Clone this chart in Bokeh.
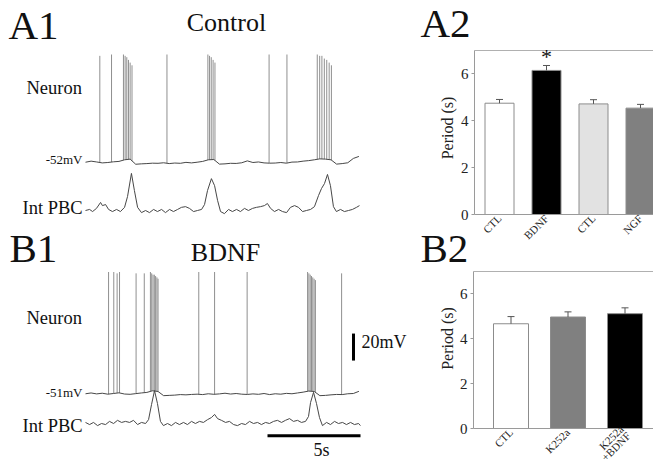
import numpy as np
from bokeh.plotting import figure
from bokeh.models import Range1d, LinearAxis, FixedTicker
from bokeh.embed import file_html
from bokeh.resources import INLINE
from bokeh.core.properties import value

FONT = "Liberation Serif"

# ---------------- data ----------------
# membrane potential baseline (mV), one sample every 0.3 s from t = 0 s
VM_DT = 0.3
a1_vm_base = [-51.8, -51.0, -51.6, -52.3, -52.0, -51.5, -51.2, -50.0, -49.5, -53.3,
              -53.0, -52.8, -52.5, -52.6, -52.2, -52.8, -52.4, -52.6, -51.9, -52.3,
              -51.8, -51.2, -50.0, -49.8, -53.2, -53.0, -52.6, -52.7, -52.2, -50.8,
              -52.0, -51.6, -52.3, -52.5, -52.4, -52.0, -52.5, -51.7, -51.6, -51.0,
              -50.6, -50.0, -49.3, -49.5, -50.0, -53.2, -52.8, -52.2, -49.0, -47.5]
a1_spike_t = [0.77, 1.40, 2.04, 2.13, 2.22, 2.31, 2.40, 2.50, 4.38, 6.58, 6.67, 6.76,
              6.86, 6.96, 9.87, 10.83, 12.46, 12.59, 12.71, 12.84, 12.97, 13.10, 13.22]
a1_spike_peak = [27, 28, 28, 27, 26, 24, 22, 20, 28, 28, 27, 26,
                 24, 22, 28, 28, 28, 27, 27, 25, 24, 22, 20]

b1_vm_base = [-51.2, -50.6, -51.3, -50.8, -51.5, -51.0, -50.5, -51.4, -51.6, -51.1,
              -50.6, -50.2, -49.0, -49.5, -52.6, -52.4, -52.2, -51.8, -52.0, -51.7,
              -51.5, -51.8, -51.2, -51.6, -51.3, -50.8, -51.4, -51.0, -51.5, -51.7,
              -51.3, -51.6, -51.0, -51.8, -51.2, -51.5, -50.9, -51.2, -50.6, -50.0,
              -49.2, -49.5, -52.6, -52.4, -52.0, -51.7, -51.8, -51.2, -51.0, -49.4]
b1_spike_t = [1.24, 1.52, 1.70, 1.83, 2.72, 3.16, 3.49, 3.56, 3.63, 3.70, 3.77, 3.84,
              3.90, 6.09, 6.94, 8.69, 11.94, 12.01, 12.08, 12.15, 12.22, 12.29, 12.36, 13.77]
b1_spike_peak = [39, 39, 38, 39, 38, 38, 39, 38, 37, 37, 36, 35,
                 34, 39, 39, 39, 39, 38, 37, 36, 35, 34, 33, 38]

# integrated preBotC activity (a.u.)
a1_int_t = [0.00, 0.22, 0.38, 0.59, 0.81, 0.91, 1.08, 1.24, 1.45, 1.67, 1.88, 2.10, 2.26,
            2.47, 2.63, 2.80, 3.01, 3.23, 3.44, 3.66, 3.87, 4.09, 4.30, 4.52, 4.73, 4.95,
            5.16, 5.38, 5.59, 5.81, 6.02, 6.24, 6.40, 6.56, 6.77, 6.94, 7.10, 7.26, 7.47,
            7.69, 7.90, 8.12, 8.33, 8.55, 8.76, 8.98, 9.19, 9.41, 9.62, 9.78, 9.95, 10.16,
            10.38, 10.59, 10.81, 11.02, 11.24, 11.45, 11.67, 11.88, 12.10, 12.31, 12.53,
            12.69, 12.85, 13.01, 13.17, 13.33, 13.49, 13.71, 13.92, 14.14, 14.35, 14.57, 14.73]
a1_int_v = [0.00, 0.03, -0.03, 0.06, 0.23, 0.14, 0.17, 0.03, -0.03, 0.03, -0.03, 0.09, 0.40,
            1.06, 0.57, 0.09, -0.06, 0.00, -0.06, 0.03, -0.03, 0.03, -0.06, 0.03, -0.03, 0.03,
            0.09, 0.11, 0.06, -0.03, 0.00, 0.03, 0.17, 0.57, 0.91, 0.71, 0.29, -0.03, -0.09,
            0.03, -0.03, 0.03, -0.03, 0.06, 0.00, 0.06, 0.09, 0.11, 0.14, 0.20, 0.06, -0.03,
            0.03, -0.03, -0.06, 0.09, 0.14, 0.09, -0.03, 0.00, 0.03, 0.11, 0.43,
            0.63, 0.77, 1.03, 0.71, 0.11, -0.03, 0.03, -0.03, 0.00, 0.03, 0.09, 0.14]
b1_int_t = [0.00, 0.22, 0.43, 0.65, 0.86, 1.08, 1.29, 1.51, 1.72, 1.94, 2.15, 2.37, 2.58,
            2.80, 3.01, 3.23, 3.39, 3.55, 3.71, 3.87, 4.03, 4.19, 4.41, 4.62, 4.84, 5.05,
            5.27, 5.48, 5.70, 5.91, 6.13, 6.34, 6.56, 6.77, 6.94, 7.10, 7.31, 7.53, 7.74,
            7.96, 8.17, 8.39, 8.60, 8.82, 9.03, 9.25, 9.46, 9.68, 9.89, 10.11, 10.32, 10.54,
            10.75, 10.97, 11.18, 11.40, 11.61, 11.83, 11.99, 12.10, 12.26, 12.42, 12.58,
            12.74, 12.96, 13.17, 13.39, 13.60, 13.82, 14.03, 14.25, 14.46, 14.68, 14.78]
b1_int_v = [0.03, -0.03, 0.03, -0.06, 0.00, -0.03, 0.06, 0.00, 0.09, 0.03, 0.06, 0.03, 0.09,
            -0.03, 0.03, 0.00, 0.11, 0.54, 0.94, 0.57, 0.06, -0.06, 0.00, -0.06, 0.03, -0.03,
            0.03, -0.03, 0.06, 0.00, 0.06, 0.03, 0.11, 0.17, 0.26, 0.14, 0.09, 0.03, 0.06,
            -0.03, -0.06, 0.00, -0.03, 0.06, 0.00, 0.03, -0.03, 0.03, 0.00, 0.06, 0.09, 0.03,
            0.09, 0.14, 0.06, 0.09, 0.03, 0.06, 0.20, 0.60, 0.89, 0.57, 0.17,
            -0.06, 0.03, -0.03, 0.06, 0.00, 0.03, -0.03, 0.03, -0.03, 0.00, -0.06]

SCALE_S = 5      # time scale bar (s)
SCALE_MV = 20    # voltage scale bar (mV)

a2_labels = ["CTL", "BDNF", "CTL", "NGF"]
a2_period = [4.75, 6.15, 4.72, 4.54]
a2_sem = [0.16, 0.21, 0.18, 0.16]
a2_colors = ["#ffffff", "#000000", "#e2e2e2", "#808080"]

b2_labels = ["CTL", "K252a", "K252a\n+BDNF"]
b2_period = [4.67, 4.97, 5.12]
b2_sem = [0.32, 0.23, 0.26]
b2_colors = ["#ffffff", "#808080", "#000000"]

Y_TICKS = [0, 2, 4, 6]
Y_MAX = 7
Y_TITLE = "Period (s)"

# ---------------- layout constants (pixels of the 653x462 picture) ----------------
W, H = 653, 462
T0_PX = 85          # where t = 0 s sits
PX_PER_S = 18.6
PX_PER_MV = 1.35
PX_PER_AU = 35.0
BASE_K = 0.38       # baseline correction (fraction of font size)


def vrange(base_val, base_px, ppu):
    return Range1d(base_val - (H - base_px) / ppu, base_val + base_px / ppu)


p = figure(width=W, height=H, x_range=Range1d(0, W), y_range=Range1d(H, 0),
           x_axis_location=None, y_axis_location=None,
           output_backend="svg", toolbar_location=None,
           min_border=0, outline_line_color=None)
p.grid.visible = False

# ---- bar-chart coordinate systems
A2 = dict(frame_left=474, frame_top=50, zero_px=214, c1=499, unit=47, bar_w=29, title_y=127.5)
B2 = dict(frame_left=473, frame_top=271, zero_px=428, c1=510.5, unit=57, bar_w=35, title_y=338)


def bar_ranges(cfg):
    ppu_y = (cfg["zero_px"] - cfg["frame_top"]) / Y_MAX
    xr = Range1d(1 + (0 - cfg["c1"]) / cfg["unit"], 1 + (W - cfg["c1"]) / cfg["unit"])
    yr = Range1d((cfg["zero_px"] - H) / ppu_y, cfg["zero_px"] / ppu_y)
    return xr, yr, ppu_y


a2x, a2y, a2_ppu = bar_ranges(A2)
b2x, b2y, b2_ppu = bar_ranges(B2)

p.extra_x_ranges = {"t": Range1d((0 - T0_PX) / PX_PER_S, (W - T0_PX) / PX_PER_S),
                    "a2x": a2x, "b2x": b2x}
p.extra_y_ranges = {
    "a1vm": vrange(-52, 162, PX_PER_MV),
    "b1vm": vrange(-51, 393, PX_PER_MV),
    "a1int": vrange(0, 210, PX_PER_AU),
    "b1int": vrange(0, 423, PX_PER_AU),
    "a2y": a2y, "b2y": b2y,
}

# ---------------- traces ----------------
TRACE = "#474747"
SPIKE = "#8f8f8f"
for base, spk, pk, yr in [(a1_vm_base, a1_spike_t, a1_spike_peak, "a1vm"),
                          (b1_vm_base, b1_spike_t, b1_spike_peak, "b1vm")]:
    tb = np.arange(len(base)) * VM_DT
    vb = np.interp(spk, tb, base)
    p.segment(x0=spk, y0=vb, x1=spk, y1=pk, x_range_name="t", y_range_name=yr,
              line_color=SPIKE, line_width=1)
    p.line(tb, base, x_range_name="t", y_range_name=yr, line_color=TRACE, line_width=1)

p.line(a1_int_t, a1_int_v, x_range_name="t", y_range_name="a1int",
       line_color=TRACE, line_width=1)
p.line(b1_int_t, b1_int_v, x_range_name="t", y_range_name="b1int",
       line_color=TRACE, line_width=1)

# scale bars
vbar_t = (353 - T0_PX) / PX_PER_S
p.segment(x0=[vbar_t], y0=[-26.6], x1=[vbar_t], y1=[-26.6 + SCALE_MV],
          x_range_name="t", y_range_name="b1vm", line_color="black", line_width=3)
t_end = (360 - T0_PX) / PX_PER_S
p.segment(x0=[t_end - SCALE_S], y0=[-0.35], x1=[t_end], y1=[-0.35],
          x_range_name="t", y_range_name="b1int", line_color="black", line_width=3)

# (text, x, baseline y, font size px, align)
texts = [
    ("A1", 8, 40, 41, "left"),
    ("Control", 226, 32, 26, "center"),
    ("Neuron", 26, 95, 18.5, "left"),
    ("-52mV", 82, 164, 13, "right"),
    ("Int PBC", 22, 215, 18.5, "left"),
    ("B1", 9, 263, 41, "left"),
    ("BDNF", 225, 262, 26, "center"),
    ("Neuron", 26, 325, 18.5, "left"),
    ("-51mV", 82, 397, 13, "right"),
    ("Int PBC", 22, 433, 18.5, "left"),
    ("20mV", 361, 348, 18, "left"),
    ("5s", 321, 456, 18, "center"),
    ("A2", 420, 38, 41, "left"),
    ("B2", 420, 263, 41, "left"),
]
for txt, x, y, fs, al in texts:
    p.text(x=[x], y=[y - BASE_K * fs], text=[txt], text_font=value(FONT),
           text_font_size=f"{fs}px", text_align=al, text_baseline="alphabetic",
           text_color="#111111")


# ---------------- bar charts ----------------
def bar_chart(cfg, xn, yn, xr, labels, vals, sems, colors):
    unit = cfg["unit"]
    xs = np.arange(1, len(vals) + 1)
    x_left = 1 + (cfg["frame_left"] - cfg["c1"]) / unit
    p.vbar(x=xs, top=vals, bottom=0, width=cfg["bar_w"] / unit,
           fill_color=colors, line_color="#8c8c8c", line_width=1,
           x_range_name=xn, y_range_name=yn)
    tops = np.array(vals) + np.array(sems)
    p.segment(x0=xs, y0=vals, x1=xs, y1=tops, line_color="#555555", line_width=1,
              x_range_name=xn, y_range_name=yn)
    cw = 3.5 / unit
    p.segment(x0=xs - cw, y0=tops, x1=xs + cw, y1=tops, line_color="#555555",
              line_width=1, x_range_name=xn, y_range_name=yn)
    # top border of the plot box
    p.segment(x0=[x_left], y0=[Y_MAX], x1=[xr.end], y1=[Y_MAX], line_color="#b0b0b0",
              line_width=1, x_range_name=xn, y_range_name=yn)

    yax = LinearAxis(x_range_name=xn, y_range_name=yn, fixed_location=x_left,
                     ticker=FixedTicker(ticks=Y_TICKS), bounds=(0, Y_MAX))
    yax.axis_line_color = "#9a9a9a"
    yax.major_tick_line_color = "#9a9a9a"
    yax.major_tick_out = 3
    yax.major_tick_in = 0
    yax.minor_tick_out = 0
    yax.minor_tick_in = 0
    yax.major_label_standoff = 3
    yax.major_label_text_font = FONT
    yax.major_label_text_font_size = "15px"
    yax.major_label_text_color = "#222222"
    p.add_layout(yax, "left")

    # y-axis title
    p.text(x=[446.5], y=[cfg["title_y"]], text=[Y_TITLE], angle=np.pi / 2,
           text_font=value(FONT), text_font_size="16px", text_align="center",
           text_baseline="middle", text_color="#222222")

    xax = LinearAxis(x_range_name=xn, y_range_name=yn, fixed_location=0,
                     ticker=FixedTicker(ticks=[int(i) for i in xs]),
                     bounds=(x_left, xr.end),
                     major_label_overrides={int(i): lab for i, lab in zip(xs, labels)})
    xax.axis_line_color = "#9a9a9a"
    xax.major_tick_out = 0
    xax.major_tick_in = 0
    xax.minor_tick_out = 0
    xax.minor_tick_in = 0
    xax.major_label_orientation = np.pi / 4
    xax.major_label_standoff = 2
    xax.major_label_text_font = FONT
    xax.major_label_text_font_size = "11px"
    xax.major_label_text_color = "#222222"
    xax.major_label_text_line_height = 0.8
    p.add_layout(xax, "below")


bar_chart(A2, "a2x", "a2y", a2x, a2_labels, a2_period, a2_sem, a2_colors)
bar_chart(B2, "b2x", "b2y", b2x, b2_labels, b2_period, b2_sem, b2_colors)

# significance star above BDNF
p.text(x=[2], y=[(A2["zero_px"] - (64 - BASE_K * 22)) / a2_ppu], text=["*"],
       text_font=value(FONT), text_font_size="22px", text_align="center",
       text_baseline="alphabetic", text_color="#111111",
       x_range_name="a2x", y_range_name="a2y")

open("out.html", "w").write(file_html(p, INLINE))
